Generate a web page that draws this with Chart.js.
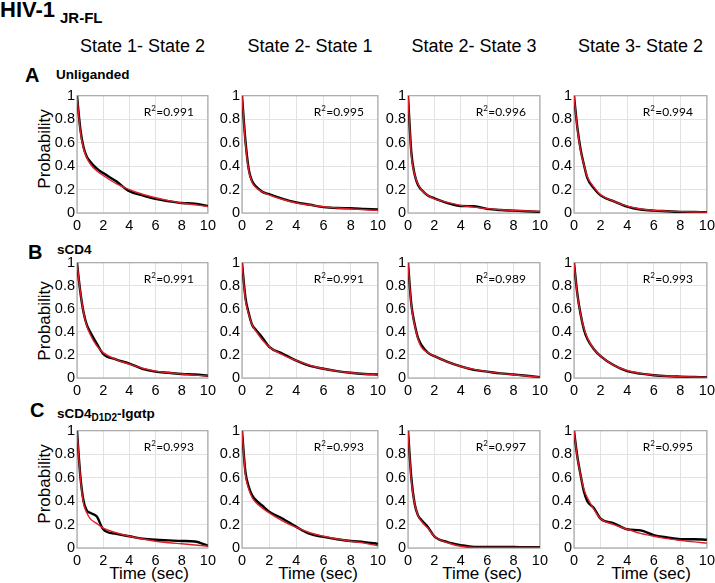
<!DOCTYPE html>
<html>
<head>
<meta charset="utf-8">
<script src="https://cdn.jsdelivr.net/npm/chart.js@4.4.1/dist/chart.umd.min.js"></script>
<style>
  body { margin: 0; background: #fff; }
  #fig { position: relative; width: 715px; height: 583px; overflow: hidden;
         font-family: "Liberation Sans", Arial, sans-serif; color: #000; }
  .t { position: absolute; white-space: nowrap; line-height: 1; }
  canvas { position: absolute; }
</style>
</head>
<body>
<div id="fig"></div>
<script>
// time points (sec) shared by every panel
const times = [0, 0.25, 0.5, 0.75, 1, 1.5, 2, 3, 4, 5, 6, 7, 8, 9, 10];

// Row A - Unliganded
const fitA1  = [1, 0.70, 0.55, 0.47, 0.42, 0.36, 0.32, 0.25, 0.20, 0.16, 0.13, 0.105, 0.085, 0.07, 0.055];
const dataA1 = [1, 0.72, 0.56, 0.48, 0.44, 0.38, 0.34, 0.27, 0.185, 0.15, 0.12, 0.10, 0.085, 0.08, 0.06];
const fitA2  = [1, 0.60, 0.36, 0.26, 0.22, 0.18, 0.155, 0.115, 0.085, 0.068, 0.053, 0.043, 0.035, 0.028, 0.022];
const dataA2 = [1, 0.62, 0.37, 0.27, 0.23, 0.18, 0.16, 0.12, 0.09, 0.07, 0.05, 0.042, 0.04, 0.035, 0.03];
const fitA3  = [1, 0.50, 0.33, 0.25, 0.20, 0.15, 0.12, 0.09, 0.065, 0.05, 0.037, 0.028, 0.022, 0.017, 0.013];
const dataA3 = [1, 0.52, 0.33, 0.24, 0.20, 0.15, 0.125, 0.085, 0.06, 0.058, 0.035, 0.025, 0.02, 0.015, 0.01];
const fitA4  = [1, 0.72, 0.53, 0.41, 0.31, 0.22, 0.155, 0.10, 0.058, 0.034, 0.022, 0.016, 0.012, 0.009, 0.007];
const dataA4 = [1, 0.73, 0.54, 0.41, 0.30, 0.21, 0.15, 0.10, 0.055, 0.03, 0.02, 0.015, 0.01, 0.008, 0.006];

// Row B - sCD4
const fitB1  = [1, 0.75, 0.57, 0.45, 0.38, 0.28, 0.22, 0.16, 0.12, 0.085, 0.06, 0.045, 0.035, 0.025, 0.018];
const dataB1 = [1, 0.75, 0.57, 0.46, 0.40, 0.30, 0.21, 0.16, 0.125, 0.08, 0.055, 0.045, 0.035, 0.03, 0.02];
const fitB2  = [1, 0.68, 0.55, 0.46, 0.41, 0.33, 0.27, 0.20, 0.15, 0.11, 0.08, 0.06, 0.045, 0.035, 0.025];
const dataB2 = [1, 0.70, 0.56, 0.46, 0.42, 0.35, 0.27, 0.21, 0.15, 0.105, 0.08, 0.06, 0.045, 0.035, 0.03];
const fitB3  = [1, 0.63, 0.46, 0.34, 0.27, 0.22, 0.19, 0.14, 0.10, 0.075, 0.055, 0.04, 0.028, 0.017, 0.008];
const dataB3 = [1, 0.64, 0.47, 0.35, 0.29, 0.22, 0.19, 0.14, 0.10, 0.07, 0.055, 0.04, 0.03, 0.02, 0.008];
const fitB4  = [1, 0.72, 0.55, 0.43, 0.35, 0.25, 0.19, 0.11, 0.065, 0.04, 0.025, 0.017, 0.012, 0.009, 0.007];
const dataB4 = [1, 0.73, 0.55, 0.42, 0.34, 0.25, 0.19, 0.11, 0.06, 0.038, 0.024, 0.016, 0.012, 0.009, 0.006];

// Row C - sCD4D1D2-Igαtp
const fitC1  = [1, 0.61, 0.38, 0.30, 0.25, 0.21, 0.17, 0.13, 0.10, 0.077, 0.058, 0.045, 0.036, 0.026, 0.015];
const dataC1 = [1, 0.62, 0.40, 0.32, 0.30, 0.27, 0.16, 0.12, 0.10, 0.08, 0.07, 0.065, 0.06, 0.055, 0.02];
const fitC2  = [1, 0.63, 0.50, 0.43, 0.39, 0.34, 0.30, 0.23, 0.175, 0.13, 0.10, 0.077, 0.058, 0.042, 0.018];
const dataC2 = [1, 0.65, 0.52, 0.45, 0.41, 0.36, 0.31, 0.25, 0.18, 0.12, 0.095, 0.075, 0.06, 0.05, 0.035];
const fitC3  = [1, 0.58, 0.38, 0.28, 0.23, 0.17, 0.10, 0.045, 0.015, 0.005, 0.004, 0.004, 0.004, 0.004, 0.004];
const dataC3 = [1, 0.60, 0.38, 0.28, 0.24, 0.18, 0.10, 0.05, 0.025, 0.01, 0.01, 0.008, 0.008, 0.006, 0.006];
const fitC4  = [1, 0.77, 0.62, 0.50, 0.43, 0.33, 0.25, 0.20, 0.16, 0.125, 0.10, 0.08, 0.065, 0.052, 0.042];
const dataC4 = [1, 0.78, 0.62, 0.48, 0.40, 0.34, 0.25, 0.21, 0.16, 0.15, 0.11, 0.09, 0.075, 0.075, 0.07];

const fits  = [[fitA1, fitA2, fitA3, fitA4], [fitB1, fitB2, fitB3, fitB4], [fitC1, fitC2, fitC3, fitC4]];
const datas = [[dataA1, dataA2, dataA3, dataA4], [dataB1, dataB2, dataB3, dataB4], [dataC1, dataC2, dataC3, dataC4]];
const r2Values = [
  ['0.991', '0.995', '0.996', '0.994'],
  ['0.991', '0.991', '0.989', '0.993'],
  ['0.993', '0.993', '0.997', '0.995']
];
const columnTitles = ['State 1- State 2', 'State 2- State 1', 'State 2- State 3', 'State 3- State 2'];
const xTicks = [0, 2, 4, 6, 8, 10];
const yTicks = [0, 0.2, 0.4, 0.6, 0.8, 1];

// panel geometry (plot area in page pixels)
const colLeft   = [77, 242, 408, 574];
const colRight  = [208, 378, 540, 707];
const rowTop    = [95, 262, 430];
const rowBottom = [213, 378, 548];

const fig = document.getElementById('fig');

function addText(html, x, y, size, extra) {
  const d = document.createElement('div');
  d.className = 't';
  d.innerHTML = html;
  d.style.left = x + 'px';
  d.style.top = (y - 0.13 * size) + 'px';   // y = cap top
  d.style.fontSize = size + 'px';
  if (extra) Object.assign(d.style, extra);
  fig.appendChild(d);
  return d;
}

// headings
addText('HIV-1', 0, 2, 22, { fontWeight: 'bold' });
addText('JR-FL', 60, 12, 15, { fontWeight: 'bold' });
columnTitles.forEach((t, c) => {
  addText(t, (colLeft[c] + colRight[c]) / 2, 39, 18, { transform: 'translateX(-50%)' });
});
addText('A', 25, 68, 20, { fontWeight: 'bold' });
addText('Unliganded', 56, 70, 13.5, { fontWeight: 'bold' });
addText('B', 28, 245, 20, { fontWeight: 'bold' });
addText('sCD4', 57, 245, 13.5, { fontWeight: 'bold' });
addText('C', 30, 403, 20, { fontWeight: 'bold' });
addText('sCD4<span style="font-size:10px;position:relative;top:3px">D1D2</span>-Ig\u03b1tp', 57, 409, 13.5, { fontWeight: 'bold' });

[149, 321, 484].forEach(cy => {
  const d = addText('Probability', 44, cy, 17, { transform: 'translate(-50%,-50%) rotate(-90deg)' });
  d.style.top = cy + 'px';
});
[149, 318, 482, 651].forEach(cx => {
  addText('Time (sec)', cx, 567, 17, { transform: 'translateX(-50%)' });
});

// plot frame and R² label
const framePlugin = {
  id: 'frame',
  beforeDatasetsDraw(chart) {
    const { ctx, chartArea: a } = chart;
    ctx.save();
    ctx.strokeStyle = '#a8a8a8';
    ctx.lineWidth = 1.2;
    ctx.strokeRect(a.left, a.top, a.right - a.left, a.bottom - a.top);
    ctx.restore();
  }
};
const r2Plugin = {
  id: 'r2Label',
  afterDatasetsDraw(chart, args, opts) {
    const { ctx, chartArea: a } = chart;
    const big = '12px Lato', small = '8px Lato';
    ctx.save();
    ctx.font = big;
    const wR = ctx.measureText('R').width;
    const wRest = ctx.measureText('=' + opts.value).width;
    ctx.font = small;
    const w2 = ctx.measureText('2').width + 0.5;
    let x = a.right - 14 - (wR + w2 + wRest);
    const y = a.top + 16;
    ctx.fillStyle = '#000';
    ctx.textBaseline = 'alphabetic';
    ctx.font = big; ctx.fillText('R', x, y + 4); x += wR;
    ctx.font = small; ctx.fillText('2', x, y - 0.5); x += w2;
    ctx.font = big; ctx.fillText('=' + opts.value, x, y + 4);
    ctx.restore();
  }
};

const tickFont = { family: '"Liberation Sans", Arial, sans-serif', size: 14.5 };

for (let r = 0; r < 3; r++) {
  for (let c = 0; c < 4; c++) {
    const plotW = colRight[c] - colLeft[c];
    const plotH = rowBottom[r] - rowTop[r];
    const canvas = document.createElement('canvas');
    canvas.width = plotW + 44;
    canvas.height = plotH + 34;
    canvas.style.left = (colLeft[c] - 32) + 'px';
    canvas.style.top = (rowTop[r] - 10) + 'px';
    canvas.style.width = canvas.width + 'px';
    canvas.style.height = canvas.height + 'px';
    fig.appendChild(canvas);

    new Chart(canvas.getContext('2d'), {
      type: 'line',
      data: {
        labels: times,
        datasets: [
          {
            label: 'fit',
            data: times.map((t, i) => ({ x: t, y: fits[r][c][i] })),
            borderColor: '#dc1f26',
            borderWidth: 1.4,
            pointRadius: 0,
            cubicInterpolationMode: 'monotone'
          },
          {
            label: 'data',
            data: times.map((t, i) => ({ x: t, y: datas[r][c][i] })),
            borderColor: '#000',
            borderWidth: 2.4,
            pointRadius: 0,
            cubicInterpolationMode: 'monotone'
          }
        ]
      },
      options: {
        responsive: false,
        animation: false,
        events: [],
        layout: { padding: { left: 2, top: 10, right: 12, bottom: 0 } },
        plugins: {
          legend: { display: false },
          tooltip: { enabled: false },
          r2Label: { value: r2Values[r][c] }
        },
        scales: {
          x: {
            type: 'linear',
            min: 0,
            max: 10,
            afterBuildTicks: s => { s.ticks = xTicks.map(v => ({ value: v })); },
            afterFit: s => { s.height = 24; },
            ticks: { font: tickFont, color: '#000', padding: 4, maxRotation: 0, autoSkip: false },
            grid: { color: '#e2e2e2', drawTicks: false },
            border: { display: false }
          },
          y: {
            type: 'linear',
            min: 0,
            max: 1,
            afterBuildTicks: s => { s.ticks = yTicks.map(v => ({ value: v })); },
            afterFit: s => { s.width = 30; },
            ticks: {
              font: tickFont, color: '#000', padding: 2, autoSkip: false,
              callback: v => String(+v.toFixed(1))
            },
            grid: { color: '#e2e2e2', drawTicks: false },
            border: { display: false }
          }
        }
      },
      plugins: [framePlugin, r2Plugin]
    });
  }
}
</script>
</body>
</html>
